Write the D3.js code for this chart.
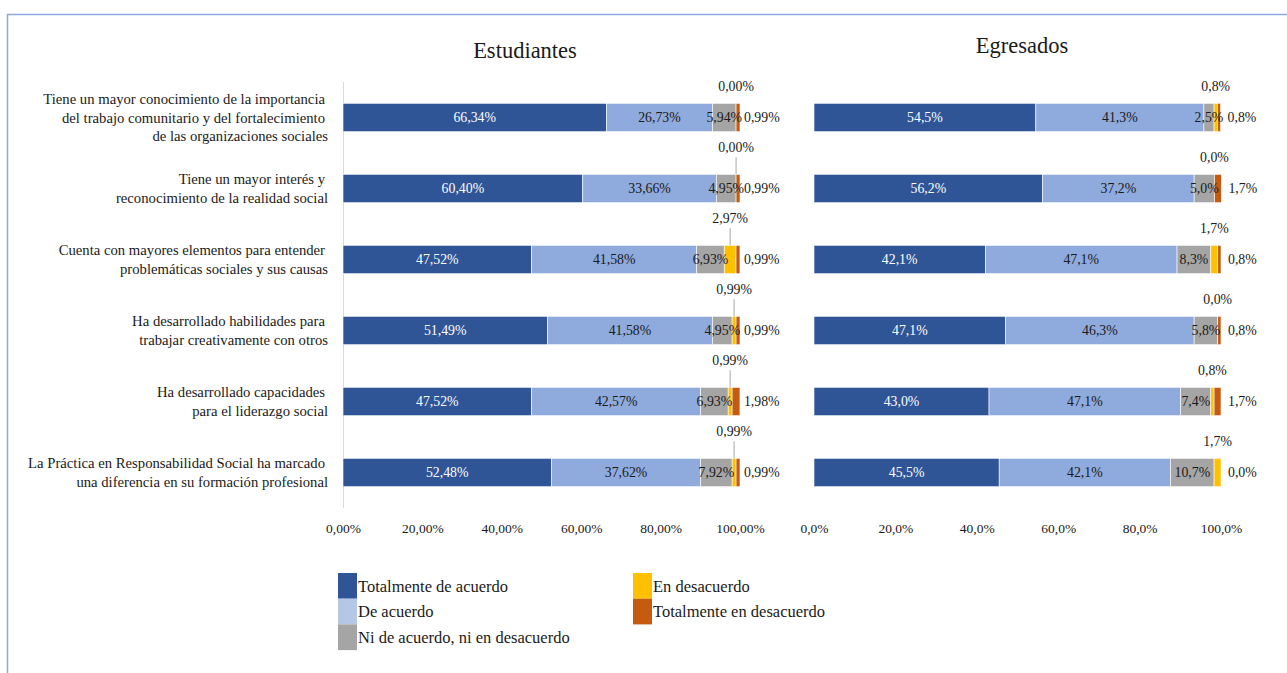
<!DOCTYPE html>
<html>
<head>
<meta charset="utf-8">
<script src="https://cdn.jsdelivr.net/npm/d3@7"></script>
<style>
body { margin: 0; background: #fff; }
text { font-family: "Liberation Serif", "Times New Roman", serif; fill: #1a1a1a; }
</style>
</head>
<body>
<div id="chart"></div>
<script>
var categories = [
    "Tiene un mayor conocimiento de la importancia\ndel trabajo comunitario y del fortalecimiento\nde las organizaciones sociales",
    "Tiene un mayor interés y\nreconocimiento de la realidad social",
    "Cuenta con mayores elementos para entender\nproblemáticas sociales y sus causas",
    "Ha desarrollado habilidades para\ntrabajar creativamente con otros",
    "Ha desarrollado capacidades\npara el liderazgo social",
    "La Práctica en Responsabilidad Social ha marcado\nuna diferencia en su formación profesional"
];
var series = ["Totalmente de acuerdo", "De acuerdo", "Ni de acuerdo, ni en desacuerdo",
              "En desacuerdo", "Totalmente en desacuerdo"];

// porcentajes por fila, en el orden de series
var estudiantes = [
    [66.34, 26.73, 5.94, 0.00, 0.99],
    [60.40, 33.66, 4.95, 0.00, 0.99],
    [47.52, 41.58, 6.93, 2.97, 0.99],
    [51.49, 41.58, 4.95, 0.99, 0.99],
    [47.52, 42.57, 6.93, 0.99, 1.98],
    [52.48, 37.62, 7.92, 0.99, 0.99]
];
var egresados = [
    [54.5, 41.3, 2.5, 0.8, 0.8],
    [56.2, 37.2, 5.0, 0.0, 1.7],
    [42.1, 47.1, 8.3, 1.7, 0.8],
    [47.1, 46.3, 5.8, 0.0, 0.8],
    [43.0, 47.1, 7.4, 0.8, 1.7],
    [45.5, 42.1, 10.7, 1.7, 0.0]
];
var ticks = [0, 20, 40, 60, 80, 100];

var barColors = ["#2F5597", "#8FAADC", "#A5A5A5", "#FFC000", "#C55A11"];
var legendColors = ["#2F5597", "#B4C7E7", "#A5A5A5", "#FFC000", "#C55A11"];

var width = 1287, height = 673;

var svg = d3.select("#chart")
    .append("svg")
    .attr("width", width)
    .attr("height", height);

// marco
svg.append("path")
    .attr("d", "M7.5,673 V14.5 H1287")
    .attr("fill", "none")
    .attr("stroke", "#8EA9DB")
    .attr("stroke-width", 1.5);

var y = d3.scaleBand()
    .domain(d3.range(categories.length))
    .range([82, 508])
    .paddingInner(0.6)
    .paddingOuter(0.3);

// etiquetas de categorías
var catG = svg.append("g").attr("class", "categories");
categories.forEach(function(c, i) {
    var lines = c.split("\n");
    var lh = 18.5;
    var t = catG.append("text")
        .attr("text-anchor", "end")
        .attr("font-size", "14.7px")
        .attr("y", y(i) + y.bandwidth() / 2 - (lines.length - 1) * lh / 2);
    lines.forEach(function(l, j) {
        t.append("tspan")
            .attr("x", j < lines.length - 1 ? 325 : 328)
            .attr("dy", j === 0 ? "0.35em" : lh)
            .text(l);
    });
});

var panels = [
    {title: "Estudiantes", data: estudiantes, x0: 343, x1: 740, dec: 2, axisLine: true,
     titleX: 525, titleY: 50, lift: 27, leader: true, rightGap: 4},
    {title: "Egresados", data: egresados, x0: 814, x1: 1221, dec: 1, axisLine: false,
     titleX: 1022, titleY: 45, lift: 18, leader: false, rightGap: 7}
];

var stack = d3.stack()
    .keys(d3.range(series.length))
    .value(function(d, k) { return d[k]; });

panels.forEach(function(p) {
    var x = d3.scaleLinear().domain([0, 100]).range([p.x0, p.x1]);
    var fmt = function(v) { return d3.format("." + p.dec + "f")(v).replace(".", ",") + "%"; };
    var g = svg.append("g").attr("class", "panel");

    g.append("text")
        .attr("x", p.titleX)
        .attr("y", p.titleY)
        .attr("dy", "0.35em")
        .attr("text-anchor", "middle")
        .attr("font-size", "22.5px")
        .text(p.title);

    if (p.axisLine) {
        g.append("line")
            .attr("x1", x(0) + 0.5).attr("x2", x(0) + 0.5)
            .attr("y1", y.range()[0]).attr("y2", y.range()[1])
            .attr("stroke", "#D9D9D9");
    }

    var axis = g.append("g")
        .attr("transform", "translate(0,520)")
        .call(d3.axisBottom(x).tickValues(ticks).tickSize(0).tickPadding(3).tickFormat(fmt));
    axis.select(".domain").remove();
    axis.selectAll("text")
        .attr("font-size", "13.5px")
        .attr("font-family", "Liberation Serif, serif")
        .attr("fill", "#1a1a1a");

    var layers = stack(p.data);

    g.selectAll("g.layer")
        .data(layers)
        .enter().append("g")
        .attr("class", "layer")
        .attr("fill", function(d) { return barColors[d.key]; })
        .selectAll("rect")
        .data(function(d) { return d; })
        .enter().append("rect")
        .attr("x", function(d) { return x(d[0]); })
        .attr("y", function(d, i) { return y(i); })
        .attr("width", function(d) { return x(d[1]) - x(d[0]); })
        .attr("height", y.bandwidth())
        .attr("stroke", "#fff")
        .attr("stroke-width", 0.6);

    layers.forEach(function(layer) {
        var k = layer.key;
        layer.forEach(function(d, i) {
            var cy = y(i) + y.bandwidth() / 2;
            var v = p.data[i][k];
            if (k < 3) {
                g.append("text")
                    .attr("x", (x(d[0]) + x(d[1])) / 2)
                    .attr("y", cy)
                    .attr("dy", "0.35em")
                    .attr("text-anchor", "middle")
                    .attr("font-size", "13.8px")
                    .style("fill", k === 0 ? "#fff" : "#1a1a1a")
                    .text(fmt(v));
            } else if (k === 3) {
                // etiqueta sobre la barra, con línea guía si queda lejos
                var cx = (x(d[0]) + x(d[1])) / 2;
                var withLeader = p.leader && i > 0;
                var ly = y(i) - (withLeader ? p.lift : 17);
                g.append("text")
                    .attr("x", cx)
                    .attr("y", ly)
                    .attr("dy", "0.35em")
                    .attr("text-anchor", "middle")
                    .attr("font-size", "13.8px")
                    .text(fmt(v));
                if (withLeader) {
                    g.append("line")
                        .attr("x1", cx).attr("x2", cx)
                        .attr("y1", ly + 10).attr("y2", y(i))
                        .attr("stroke", "#A6A6A6");
                }
            } else {
                g.append("text")
                    .attr("x", x(d[1]) + p.rightGap)
                    .attr("y", cy)
                    .attr("dy", "0.35em")
                    .attr("font-size", "13.8px")
                    .text(fmt(v));
            }
        });
    });
});

// leyenda
var legend = svg.append("g").attr("class", "legend");
series.forEach(function(s, i) {
    var col = i < 3 ? 0 : 1;
    var row = i < 3 ? i : i - 3;
    var lx = col === 0 ? 338 : 633;
    var ly = 573 + row * 25.7;
    legend.append("rect")
        .attr("x", lx).attr("y", ly)
        .attr("width", 19).attr("height", 25.7)
        .attr("fill", legendColors[i]);
    legend.append("text")
        .attr("x", lx + 20)
        .attr("y", ly + 13)
        .attr("dy", "0.35em")
        .attr("font-size", "16.5px")
        .text(s);
});
</script>
</body>
</html>
